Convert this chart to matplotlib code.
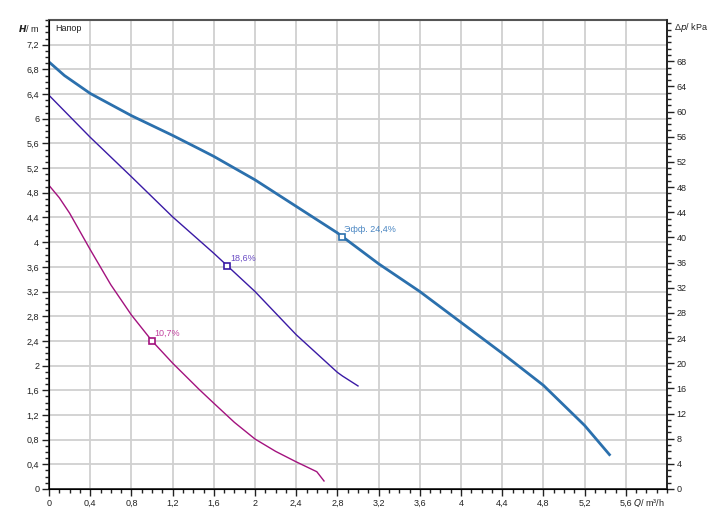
import matplotlib.pyplot as plt
from matplotlib.ticker import MultipleLocator, FixedLocator

plt.rcParams['font.family'] = ['Liberation Sans', 'DejaVu Sans']

# pump curves, Q in m3/h, H in m
q_max = [0, 0.15, 0.4, 0.6, 0.8, 1.0, 1.2, 1.46, 1.6, 2.0, 2.4, 2.8, 3.2, 3.6, 4.0, 4.4, 4.8, 5.2, 5.45]
h_max = [6.92, 6.70, 6.41, 6.23, 6.05, 5.89, 5.73, 5.51, 5.39, 5.01, 4.58, 4.15, 3.65, 3.20, 2.70, 2.20, 1.68, 1.03, 0.54]

q_mid = [0, 0.4, 0.8, 1.2, 1.6, 2.0, 2.4, 2.8, 2.85, 3.0]
h_mid = [6.38, 5.70, 5.06, 4.41, 3.82, 3.20, 2.50, 1.89, 1.83, 1.67]

q_low = [0, 0.1, 0.2, 0.4, 0.6, 0.8, 1.0, 1.2, 1.46, 1.6, 1.8, 2.0, 2.2, 2.4, 2.6, 2.67]
h_low = [4.92, 4.72, 4.47, 3.88, 3.31, 2.82, 2.40, 2.04, 1.61, 1.39, 1.08, 0.81, 0.61, 0.44, 0.28, 0.13]

# efficiency points
eff_q = [2.84, 1.73, 1.0]
eff_h = [4.09, 3.62, 2.40]
eff_txt = ['Эфф. 24,4%', '18,6%', '10,7%']

x_ticks = [0, 0.4, 0.8, 1.2, 1.6, 2.0, 2.4, 2.8, 3.2, 3.6, 4.0, 4.4, 4.8, 5.2, 5.6]
y_ticks = [0, 0.4, 0.8, 1.2, 1.6, 2.0, 2.4, 2.8, 3.2, 3.6, 4.0, 4.4, 4.8, 5.2, 5.6, 6.0, 6.4, 6.8, 7.2]
kpa_ticks = list(range(0, 69, 4))

def fmt(v):
    return ('%g' % v).replace('.', ',')

colors = ['#2b70ad', '#3a1aa5', '#a3127e']
text_colors = ['#4a86c2', '#6a4cc4', '#c2439f']

fig = plt.figure(figsize=(7.22, 5.31), dpi=100)
ax = fig.add_axes([49/722, 42/531, 618/722, 469/531])

ax.plot(q_max, h_max, color=colors[0], lw=2.0, solid_capstyle='butt', zorder=3)
ax.plot(q_mid, h_mid, color=colors[1], lw=1.0, zorder=3)
ax.plot(q_low, h_low, color=colors[2], lw=1.0, zorder=3)

for i in range(3):
    ax.plot(eff_q[i], eff_h[i], marker='s', ms=5, mfc='white', mec=colors[i], mew=1.2, zorder=4)
    ax.annotate(eff_txt[i], (eff_q[i], eff_h[i]), xytext=(2, 2), textcoords='offset points',
                color=text_colors[i], fontsize=6.5, va='bottom', ha='left')

ax.set_xlim(0, 6.0)
ax.set_ylim(0, 7.6)
ax.xaxis.set_major_locator(FixedLocator(x_ticks))
ax.xaxis.set_minor_locator(MultipleLocator(0.1))
ax.yaxis.set_major_locator(FixedLocator(y_ticks))
ax.yaxis.set_minor_locator(MultipleLocator(0.1))
ax.set_xticklabels([fmt(v) for v in x_ticks])
ax.set_yticklabels([fmt(v) for v in y_ticks])
ax.grid(True, which='major', color='#d0d0d0', lw=1.3)
ax.set_axisbelow(True)

ax.tick_params(which='major', direction='out', length=5, width=1, labelsize=6.5, colors='#222222', pad=2)
ax.tick_params(which='minor', direction='out', length=3, width=1, colors='#222222')
for s in ['left', 'bottom', 'right']:
    ax.spines[s].set_color('#222222')
    ax.spines[s].set_linewidth(1.2)
ax.spines['top'].set_color('#555555')
ax.spines['top'].set_linewidth(1.5)

ax2 = ax.twinx()
ax2.set_ylim(0, 7.6 * 9.81)
ax2.yaxis.set_major_locator(FixedLocator(kpa_ticks))
ax2.yaxis.set_minor_locator(MultipleLocator(1))
ax2.set_yticklabels([str(v) for v in kpa_ticks])
ax2.tick_params(which='major', direction='out', length=5, width=1, labelsize=6.5, colors='#222222', pad=2)
ax2.tick_params(which='minor', direction='out', length=3, width=1, colors='#222222')
ax2.spines['right'].set_color('#222222')
ax2.spines['right'].set_linewidth(1.2)
ax2.spines['top'].set_visible(False)

# axis titles in the chart's own style
ax.annotate(r'$\boldsymbol{H}$/ m', (0, 7.47), xytext=(-7, 0), textcoords='offset points',
            fontsize=6.5, ha='right', va='center', color='#222222')
ax.annotate(r'$Q$/ m³/h', (6.0, 0), xytext=(-2, -6), textcoords='offset points',
            fontsize=6.5, ha='right', va='top', color='#222222')
ax2.text(1.012, 73.3, r'Δ$p$/ kPa', transform=ax2.get_yaxis_transform(), fontsize=6.5,
         ha='left', va='center', color='#222222')
ax.text(0.06, 7.47, 'Напор', fontsize=6.5, ha='left', va='center', color='#222222')

fig.savefig('out.png', dpi=100)
